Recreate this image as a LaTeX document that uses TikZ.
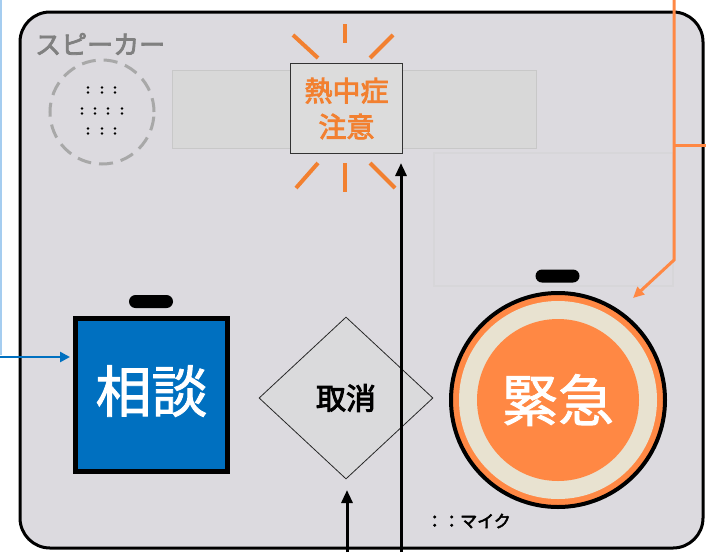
\documentclass[tikz,border=0pt]{standalone}
\usepackage{fontspec}
\setmainfont{Noto Sans CJK JP}
\newfontfamily\cjkmed[FakeBold=3]{Noto Sans CJK JP}
\newfontfamily\cjklight[FakeBold=1.5]{Noto Sans CJK JP}
\usetikzlibrary{shapes.geometric,arrows.meta,calc}
\definecolor{bgc}{RGB}{220,218,223}
\definecolor{panelc}{RGB}{216,216,216}
\definecolor{panelb}{RGB}{200,200,200}
\definecolor{faintb}{RGB}{215,214,217}
\definecolor{orng}{RGB}{255,136,68}
\definecolor{rayc}{RGB}{242,128,48}
\definecolor{blu}{RGB}{0,112,192}
\definecolor{lblu}{RGB}{165,205,240}
\definecolor{beige}{RGB}{232,226,208}
\definecolor{spk}{RGB}{128,128,128}
\definecolor{spkc}{RGB}{168,168,168}
\tikzset{
  pill/.style={fill=black, rounded corners=6.5pt, minimum width=44pt, minimum height=13pt, inner sep=0pt},
  ray/.style={rayc, line width=4pt},
  blackarrow/.style={line width=3pt, -{Triangle[length=13pt,width=11pt]}},
  orangearrow/.style={orng, line width=3pt, -{Triangle[length=11pt,width=10pt]}},
  bluearrow/.style={blu, line width=2.5pt, -{Triangle[length=10pt,width=10pt]}},
}
\begin{document}
\begin{tikzpicture}[x=1pt,y=-1pt]
\useasboundingbox (0,0) rectangle (706,552);
% main body
\draw[line width=3pt, fill=bgc, rounded corners=30pt] (20,12) rectangle (703,548);
% display panel and faint area
\draw[panelb, fill=panelc, line width=1pt] (172,70) rectangle (536,148);
\draw[faintb, line width=2pt] (434,153) rectangle (673,286);
% speaker
\node[spk, anchor=west, font=\fontsize{26}{26}\cjkmed, inner sep=0pt] (spklabel) at (35,44) {スピーカー};
\node[circle, draw=spkc, line width=3pt, dash pattern=on 14pt off 8pt, minimum size=104pt, inner sep=0pt] (speaker) at (102,112) {};
\foreach \x in {88,102,115} {
  \fill (\x,87.5) circle (1.3pt); \fill (\x,92.5) circle (1.3pt);
  \fill (\x,128.5) circle (1.3pt); \fill (\x,133.5) circle (1.3pt);
}
\foreach \x in {82,95,108,122} {
  \fill (\x,108.5) circle (1.3pt); \fill (\x,113.5) circle (1.3pt);
}
% heatstroke box
\node[draw={rgb,255:red,50;green,50;blue,50}, line width=1.2pt, fill={rgb,255:red,220;green,220;blue,220}, minimum width=112pt, minimum height=90pt, inner sep=0pt, align=center, text=rayc, font=\fontsize{28}{36}\cjkmed] (netsu) at (346.5,108.5) {熱中症\\注意};
% rays
\draw[ray] (345,24) -- (345,43);
\draw[ray] (293,35) -- (318,58);
\draw[ray] (393,35) -- (370,58);
\draw[ray] (345,163) -- (345,192);
\draw[ray] (318,163) -- (296,188);
\draw[ray] (370,163) -- (395,188);
% soudan
\node[pill] (pill1) at (151,301.5) {};
\node[draw=black, line width=4.5pt, fill=blu, minimum width=152pt, minimum height=153pt, inner sep=0pt] (sodan) at (151.5,395) {};
\node[text=white, font=\fontsize{56}{56}\cjklight, inner sep=0pt] (sodantext) at ($(sodan.center)+(0,-4)$) {相談};
% cancel
\node[diamond, draw={rgb,255:red,40;green,40;blue,40}, line width=0.8pt, fill={rgb,255:red,218;green,218;blue,220}, minimum width=174pt, minimum height=162pt, inner sep=0pt, font=\fontsize{30}{30}\cjkmed] (torikeshi) at (346,398) {取消};
% emergency
\node[pill] (pill2) at (557.5,276) {};
\node[circle, draw=black, line width=4pt, fill=orng, minimum size=214pt, inner sep=0pt] (kinkyu) at (558,400) {};
\fill[beige] (kinkyu.center) circle (99pt);
\fill[orng] (kinkyu.center) circle (81pt);
\node[text=white, font=\fontsize{56}{56}\cjklight, inner sep=0pt] (kinkyutext) at (kinkyu.center) {緊急};
\node[anchor=west, inner sep=0pt, font=\fontsize{17}{17}\cjkmed] (mic) at (426,521) {：：マイク};
% connectors
\coordinate (b1) at (401,552);
\coordinate (t1) at (401,163);
\coordinate (b2) at (347,552);
\coordinate (t2) at (347,490);
\draw[blackarrow] (b1) -- (t1);
\draw[blackarrow] (b2) -- (t2);
% orange
\coordinate (o1) at (674,0);
\coordinate (o2) at (674,260);
\coordinate (obr) at (674,145);
\coordinate (oright) at (706,145);
\coordinate (otip) at (633,298);
\draw[orangearrow] (o1) -- (o2) -- (otip);
\draw[orng, line width=3pt] (obr) -- (oright);
% blue
\coordinate (bl0) at (1,0);
\coordinate (bl1) at (1,355);
\coordinate (btip) at (70,357);
\draw[lblu, line width=2pt] (bl0) -- (bl1);
\draw[bluearrow] (0,357) -- (btip);
\end{tikzpicture}
\end{document}
